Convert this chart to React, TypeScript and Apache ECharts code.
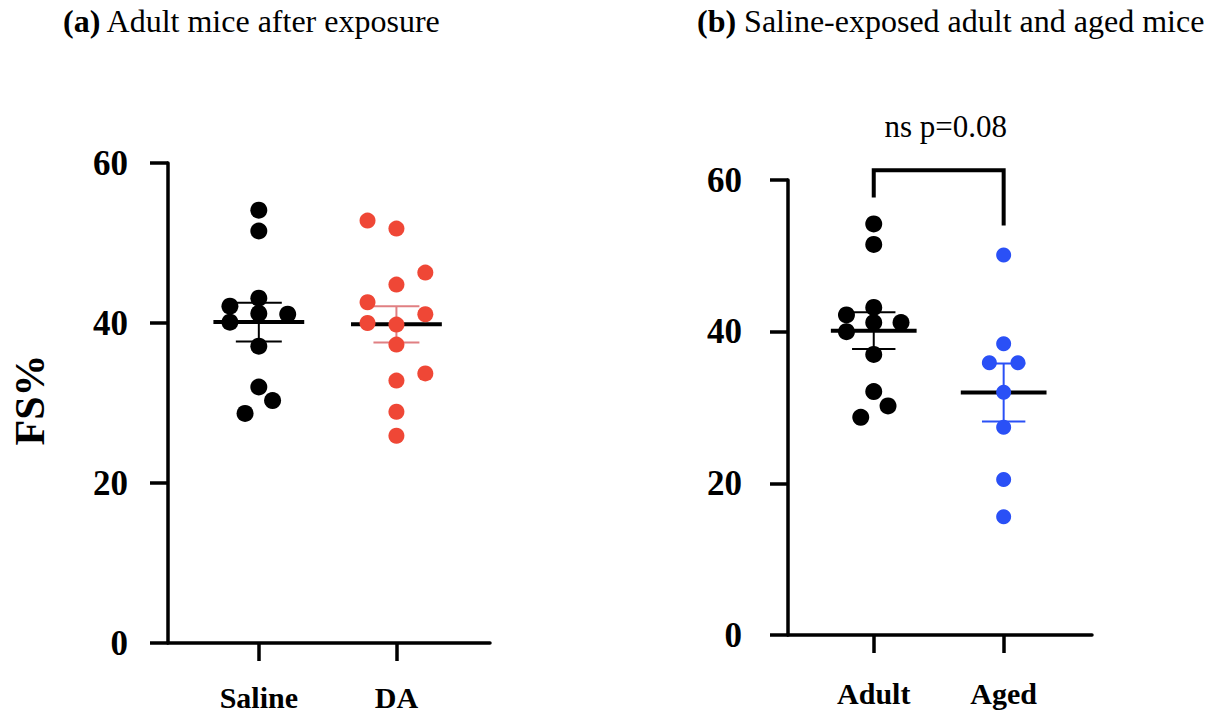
import React, { useEffect, useRef } from "react";
import * as echarts from "echarts";

// ---- data ----
const yTicks = [0, 20, 40, 60];
const panelACategories = ["Saline", "DA"];
const panelBCategories = ["Adult", "Aged"];

const salineValues = [54.1, 51.5, 43.1, 42.1, 41.2, 41.1, 40.1, 37.1, 32.0, 30.3, 28.7];
const salineJitter = [0, 0, 0, -0.21, 0, 0.21, -0.21, 0, 0, 0.1, -0.1];

const daValues = [52.8, 51.8, 46.3, 44.8, 42.6, 41.1, 40.0, 39.8, 37.3, 33.7, 32.8, 28.9, 25.9];
const daJitter = [-0.21, 0, 0.21, 0, -0.21, 0.21, -0.21, 0, 0, 0.21, 0, 0, 0];

const adultValues = [54.2, 51.5, 43.2, 42.2, 41.2, 41.2, 40.0, 37.0, 32.1, 30.2, 28.7];
const adultJitter = [0, 0, 0, -0.21, 0, 0.21, -0.21, 0, 0, 0.11, -0.1];

const agedValues = [50.1, 38.4, 35.9, 35.9, 32.0, 27.4, 20.5, 15.6];
const agedJitter = [0, 0, -0.11, 0.11, 0, 0, 0, 0];

const bracketValues = [61.3, 57.7, 54.0]; // top, left end, right end
const bracketLabel = "ns p=0.08";

const titleA = { tag: "(a)", text: " Adult mice after exposure" };
const titleB = { tag: "(b)", text: " Saline-exposed adult and aged mice" };
const yName = "FS%";

// ---- helpers ----
const mean = (a: number[]) => a.reduce((s, v) => s + v, 0) / a.length;
const sem = (a: number[]) => {
  const m = mean(a);
  const v = a.reduce((s, x) => s + (x - m) * (x - m), 0) / (a.length - 1);
  return Math.sqrt(v) / Math.sqrt(a.length);
};
const pts = (vals: number[], jit: number[], pos: number) =>
  vals.map((v, i) => [pos + jit[i], v]);

const FONT = "'Liberation Serif', 'Times New Roman', serif";

const errSeries = (
  gi: number,
  pos: number,
  vals: number[],
  color: string
) => ({
  type: "custom",
  xAxisIndex: gi,
  yAxisIndex: gi,
  z: 1,
  silent: true,
  data: [[pos, mean(vals), sem(vals)]],
  renderItem: (params: any, api: any) => {
    const x = api.value(0);
    const m = api.value(1);
    const s = api.value(2);
    const ml = api.coord([x - 0.33, m]);
    const mr = api.coord([x + 0.33, m]);
    const t = api.coord([x, m + s]);
    const b = api.coord([x, m - s]);
    const tl = api.coord([x - 0.167, m + s]);
    const tr = api.coord([x + 0.167, m + s]);
    const bl = api.coord([x - 0.167, m - s]);
    const br = api.coord([x + 0.167, m - s]);
    return {
      type: "group",
      children: [
        { type: "line", shape: { x1: t[0], y1: t[1], x2: b[0], y2: b[1] }, style: { stroke: color, lineWidth: 2 } },
        { type: "line", shape: { x1: tl[0], y1: tl[1], x2: tr[0], y2: tr[1] }, style: { stroke: color, lineWidth: 2 } },
        { type: "line", shape: { x1: bl[0], y1: bl[1], x2: br[0], y2: br[1] }, style: { stroke: color, lineWidth: 2 } },
        { type: "line", shape: { x1: ml[0], y1: ml[1], x2: mr[0], y2: mr[1] }, style: { stroke: "#000", lineWidth: 4 } },
      ],
    };
  },
});

const scatter = (gi: number, data: number[][], color: string, size: number) => ({
  type: "scatter",
  xAxisIndex: gi,
  yAxisIndex: gi,
  z: 3,
  symbolSize: size,
  itemStyle: { color, opacity: 1 },
  data,
});

const xAxis = (gi: number, cats: string[], margin: number) => ({
  type: "value",
  gridIndex: gi,
  min: 0.34,
  max: 2.68,
  axisLine: { show: true, lineStyle: { color: "#000", width: 3.5 } },
  axisTick: { show: true, customValues: [1, 2], length: 18, lineStyle: { color: "#000", width: 3.5 } },
  axisLabel: {
    show: true,
    customValues: [1, 2],
    formatter: (v: number) => cats[Math.round(v) - 1] ?? "",
    margin,
    color: "#000",
    fontFamily: FONT,
    fontWeight: "bold",
    fontSize: 30,
    lineHeight: 28,
  },
  splitLine: { show: false },
});

const yAxis = (gi: number, margin: number) => ({
  type: "value",
  gridIndex: gi,
  min: yTicks[0],
  max: yTicks[yTicks.length - 1],
  interval: 20,
  axisLine: { show: true, lineStyle: { color: "#000", width: 3.5 } },
  axisTick: { show: true, length: 18, lineStyle: { color: "#000", width: 3.5 } },
  axisLabel: {
    margin,
    color: "#000",
    fontFamily: FONT,
    fontWeight: "bold",
    fontSize: 35,
  },
  splitLine: { show: false },
});

export default function App() {
  const ref = useRef<HTMLDivElement>(null);
  useEffect(() => {
    document.body.style.margin = "0";
    if (!ref.current) return;
    const chart = echarts.init(ref.current, undefined, { renderer: "svg" });
    const titleRich = {
      b: { fontFamily: FONT, fontWeight: "bold", fontSize: 32, color: "#000" },
      r: { fontFamily: FONT, fontWeight: "normal", fontSize: 32, color: "#000" },
    };
    chart.setOption({
      animation: false,
      backgroundColor: "#fff",
      title: [
        {
          text: `{b|${titleA.tag}}{r|${titleA.text}}`,
          left: 63,
          top: 5,
          padding: 0,
          textStyle: { rich: titleRich },
        },
        {
          text: `{b|${titleB.tag}}{r|${titleB.text}}`,
          left: 697,
          top: 5,
          padding: 0,
          textStyle: { rich: titleRich },
        },
      ],
      graphic: [
        {
          type: "text",
          x: 30,
          y: 400,
          rotation: Math.PI / 2,
          style: {
            text: yName,
            fontFamily: FONT,
            fontWeight: "bold",
            fontSize: 42,
            fill: "#000",
            align: "center",
            verticalAlign: "middle",
          },
        },
      ],
      grid: [
        { left: 168, top: 163, width: 322, height: 480 },
        { left: 788, top: 180, width: 304, height: 455 },
      ],
      xAxis: [xAxis(0, panelACategories, 40), xAxis(1, panelBCategories, 44)],
      yAxis: [yAxis(0, 40), yAxis(1, 46)],
      series: [
        errSeries(0, 1, salineValues, "#000"),
        errSeries(0, 2, daValues, "#e07f82"),
        scatter(0, pts(salineValues, salineJitter, 1), "#000", 17),
        scatter(0, pts(daValues, daJitter, 2), "#ef4736", 16),
        errSeries(1, 1, adultValues, "#000"),
        errSeries(1, 2, agedValues, "#2a50f6"),
        scatter(1, pts(adultValues, adultJitter, 1), "#000", 17),
        scatter(1, pts(agedValues, agedJitter, 2), "#2a50f6", 15),
        {
          type: "custom",
          xAxisIndex: 1,
          yAxisIndex: 1,
          silent: true,
          clip: false,
          z: 4,
          data: [[1, 2, ...bracketValues]],
          renderItem: (params: any, api: any) => {
            const x1 = api.value(0);
            const x2 = api.value(1);
            const top = api.value(2);
            const p1 = api.coord([x1, api.value(3)]);
            const p2 = api.coord([x1, top]);
            const p3 = api.coord([x2, top]);
            const p4 = api.coord([x2, api.value(4)]);
            return {
              type: "group",
              children: [
                {
                  type: "polyline",
                  shape: { points: [p1, p2, p3, p4] },
                  style: { stroke: "#000", lineWidth: 4, fill: "none" },
                },
                {
                  type: "text",
                  x: (p2[0] + p3[0]) / 2 + 7,
                  y: p2[1] - 44,
                  style: {
                    text: bracketLabel,
                    fontFamily: FONT,
                    fontSize: 31,
                    fill: "#000",
                    align: "center",
                    verticalAlign: "middle",
                  },
                },
              ],
            };
          },
        },
      ],
    });
    return () => chart.dispose();
  }, []);
  return <div ref={ref} style={{ width: 1210, height: 715 }} />;
}
